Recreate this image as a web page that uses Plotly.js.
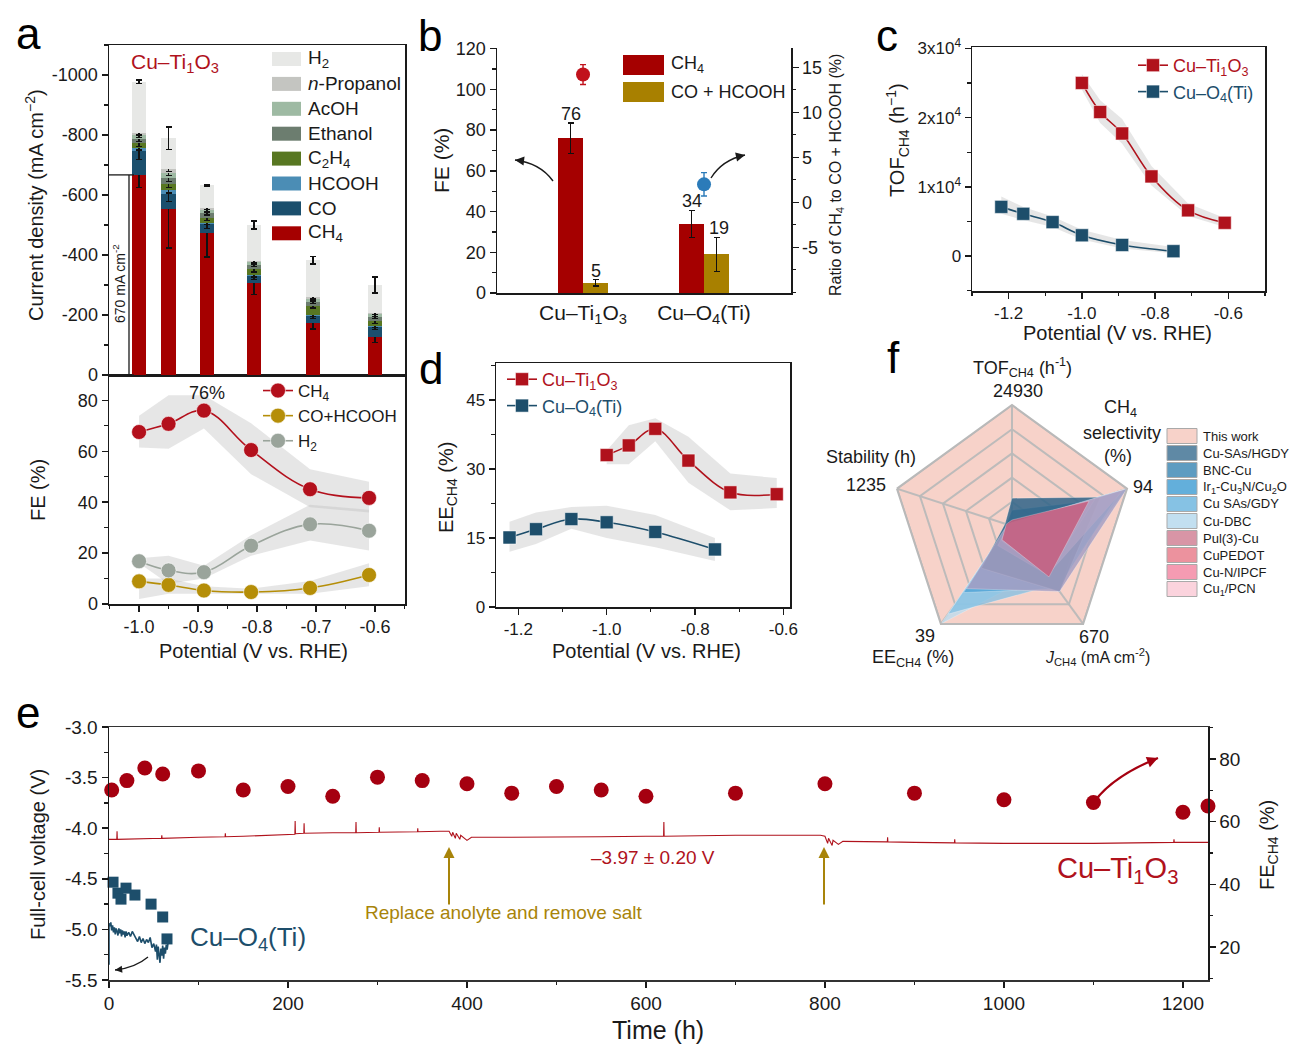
<!DOCTYPE html>
<html><head><meta charset="utf-8">
<script src="https://cdn.plot.ly/plotly-3.0.1.min.js"></script>
<style>body{margin:0;background:#fff;} #chart{width:1290px;height:1047px;}</style>
</head><body><div id="chart"></div>
<script>
// ---------------- DATA ----------------
// Panel a (top): partial current densities (mA cm-2)
const barPotentials = [-1.0, -0.95, -0.885, -0.805, -0.705, -0.6];
const productNames = ['CH<sub>4</sub>', 'CO', 'HCOOH', 'C<sub>2</sub>H<sub>4</sub>', 'Ethanol', 'AcOH', '<i>n</i>-Propanol', 'H<sub>2</sub>'];
const productColors = ['#a50000', '#1b4f6d', '#4b8db5', '#587722', '#6c7d6f', '#9ebaa3', '#c4c5c1', '#e7e8e6'];
const jCH4 = [-667, -553, -473, -306, -173, -127];
const jCO = [-81, -50, -31, -24, -25, -34];
const jHCOOH = [-10, -14, -4, -3, -3, -3];
const jC2H4 = [-14, -20, -16, -19, -30, -16];
const jEthanol = [-15, -19, -15, -15, -13, -14];
const jAcOH = [-13, -18, -11, -9, -9, -8];
const jPropanol = [-8, -13, -6, -5, -7, -6];
const jH2 = [-170, -102, -77, -119, -123, -92];
const eCH4 = [42, 130, 80, 38, 20, 18];
const eCO = [30, 25, 15, 12, 10, 10];
const eHCOOH = [8, 10, 6, 6, 5, 5];
const eC2H4 = [10, 12, 8, 8, 8, 8];
const eEthanol = [8, 10, 6, 6, 6, 6];
const eAcOH = [8, 8, 6, 6, 6, 6];
const ePropanol = [8, 8, 4, 6, 6, 6];
const eH2 = [6, 38, 3, 13, 13, 27];
// Panel a (bottom): FE (%)
const potentials = [-1.0, -0.95, -0.89, -0.81, -0.71, -0.61];
const feCH4 = [67.6, 70.8, 76.0, 60.5, 45.1, 41.7];
const feCOHCOOH = [8.9, 7.5, 5.3, 4.7, 6.3, 11.4];
const feH2 = [16.8, 13.2, 12.5, 22.9, 31.3, 28.8];
const feCH4Upper = [74, 82, 82, 71, 53, 48];
const feCH4Lower = [61.5, 61, 69, 51, 38, 36];
const feH2Upper = [18, 19, 15, 27, 39, 37];
const feH2Lower = [16, 8, 10, 19, 25, 21];
const feCOUpper = [10, 10, 7, 6, 9, 16];
const feCOLower = [2, 4, 4, 4, 4, 7];
// Panel b
const bCategories = ['Cu–Ti<sub>1</sub>O<sub>3</sub>', 'Cu–O<sub>4</sub>(Ti)'];
const bFeCH4 = [76, 34];
const bFeCH4Err = [7.4, 6.6];
const bFeCO = [5, 19];
const bFeCOErr = [1.5, 8.3];
const bRatio = [14.2, 2.0];
const bRatioErr = [1.1, 1.3];
const bRatioColors = ['#c1121c', '#2b7bb9'];
// Panel c: TOF
const cTiX = [-1.0, -0.95, -0.89, -0.81, -0.71, -0.61];
const cTiY = [25000, 20800, 17700, 11500, 6600, 4800];
const cTiUpper = [26300, 22500, 19800, 13000, 7600, 5500];
const cTiLower = [24000, 19200, 16200, 10200, 5800, 4200];
const cO4X = [-1.22, -1.16, -1.08, -1.0, -0.89, -0.75];
const cO4Y = [7100, 6100, 4900, 3000, 1600, 700];
const cO4Upper = [8600, 7100, 5700, 3800, 2300, 1300];
const cO4Lower = [6100, 5200, 4200, 2400, 1100, 400];
// Panel d: EE
const dTiX = [-1.0, -0.95, -0.89, -0.815, -0.72, -0.615];
const dTiY = [33.0, 35.1, 38.7, 31.8, 24.9, 24.5];
const dTiUpper = [34, 39.5, 41, 37, 29, 28];
const dTiLower = [31, 31, 36, 27, 21, 21.5];
const dO4X = [-1.22, -1.16, -1.08, -1.0, -0.89, -0.755];
const dO4Y = [15.1, 16.9, 19.1, 18.4, 16.3, 12.5];
const dO4Upper = [18.5, 20.5, 21.7, 22, 20, 15];
const dO4Lower = [12, 13.7, 17, 15, 13, 10];
// Panel e: stability
const eTime = [3, 20, 40, 60, 100, 150, 200, 250, 300, 350, 400, 450, 500, 550, 600, 700, 800, 900, 1000, 1100, 1200, 1228];
const eFE = [70.1, 73.1, 77.1, 75.2, 76.2, 70.1, 71.2, 68.1, 74.2, 73.1, 72.1, 69.1, 71.2, 70.1, 68.1, 69.1, 72.1, 69.1, 67.0, 66.1, 63.0, 65.0];
const eO4Time = [4.5, 10, 13.4, 19, 29, 47, 60, 64.8];
const eO4FE = [40.7, 37.2, 35.3, 38.8, 36.6, 33.7, 29.6, 22.6];
const vTiTime = [0, 8.7, 9, 9.3, 58.7, 59, 59.3, 100, 129.7, 130, 130.3, 150, 200, 207.7, 208, 208.3, 217.7, 218, 218.3, 250, 275.7, 276, 276.3, 301.7, 302, 302.3, 344.7, 345, 345.3, 370, 380, 383, 384, 387, 388, 392, 393, 400, 405, 450, 500, 550, 600, 619.7, 620, 620.3, 700, 760, 795, 800, 803, 804, 808, 809, 815, 820, 869.7, 870, 870.3, 900, 944.7, 945, 945.3, 1000, 1100, 1189.7, 1190, 1190.3, 1228];
const vTiV = [-4.11, -4.11, -4.03, -4.11, -4.10, -4.07, -4.10, -4.09, -4.085, -4.05, -4.085, -4.08, -4.065, -4.06, -3.93, -4.055, -4.05, -3.95, -4.05, -4.045, -4.045, -3.94, -4.045, -4.04, -3.99, -4.04, -4.035, -4.0, -4.035, -4.03, -4.03, -4.08, -4.04, -4.10, -4.05, -4.11, -4.07, -4.12, -4.09, -4.09, -4.09, -4.085, -4.08, -4.08, -3.94, -4.08, -4.07, -4.07, -4.07, -4.08, -4.15, -4.10, -4.17, -4.12, -4.16, -4.13, -4.135, -4.09, -4.135, -4.14, -4.145, -4.11, -4.145, -4.15, -4.15, -4.14, -4.11, -4.14, -4.14];
const vO4Time = [0, 0, 1, 2, 3, 4, 5, 6, 7, 8, 9, 10, 11, 12, 13, 14, 15, 16, 17, 18, 19, 20, 22, 24, 26, 28, 30, 32, 34, 36, 38, 40, 42, 44, 46, 48, 50, 52, 53, 54, 55, 56, 57, 58, 59, 60, 61, 62, 63, 64, 65, 66];
const vO4V = [-5.35, -4.94, -4.97, -4.93, -5.01, -4.96, -5.03, -4.98, -5.05, -4.99, -5.02, -5.06, -4.99, -5.04, -5.0, -5.07, -5.01, -5.05, -5.02, -5.08, -5.02, -5.06, -5.03, -5.07, -5.02, -5.05, -5.09, -5.12, -5.07, -5.13, -5.09, -5.14, -5.1, -5.13, -5.08, -5.18, -5.14, -5.22, -5.15, -5.3, -5.17, -5.24, -5.33, -5.19, -5.26, -5.16, -5.29, -5.18, -5.24, -5.15, -5.2, -5.13];
// Panel f: radar (normalised to the maxima of this work)
const radarAxes = ['TOF', 'Selectivity', 'J', 'EE', 'Stability'];
const radarGridLevels = [0.2, 0.4, 0.6, 0.8, 1.0];
const radarNames = ['This work', 'Cu-SAs/HGDY', 'BNC-Cu', 'Ir<sub>1</sub>-Cu<sub>3</sub>N/Cu<sub>2</sub>O', 'Cu SAs/GDY', 'Cu-DBC', 'Pul(3)-Cu', 'CuPEDOT', 'Cu-N/IPCF', 'Cu<sub>1</sub>/PCN'];
const radarColors = ['#f7d2c9', '#5f89a5', '#5e9cc1', '#63afdb', '#86c2e4', '#c2dff0', '#d895a6', '#ec929e', '#f59bb2', '#fbd3dd'];
const radarFills = ['#f7d2c9', '#2f6488', '#4a88ad', '#4fa3d6', '#80bfe3', '#bcdcef', '#a7a0c3', '#c55f80', '#ee9ab4', '#f8c3d0'];
const radarOpacity = [1, 0.85, 0.85, 0.8, 0.75, 0.8, 0.85, 0.88, 0.6, 0.7];
const radarDrawOrder = [0, 5, 4, 3, 2, 1, 9, 8, 6, 7];
const rThisWork = [1, 1, 1, 1, 1];
const rHGDY = [0.23, 0.77, 0.67, 0.43, 0.06];
const rBNC = [0.13, 0.67, 0.67, 0.43, 0.05];
const rIr = [0.05, 0.95, 0.64, 0.68, 0.04];
const rCuSAsGDY = [0.03, 1.0, 0.6, 0.9, 0.03];
const rDBC = [0.02, 1.0, 0.45, 1.0, 0.03];
const rPul = [0.03, 1.0, 0.67, 0.64, 0.04];
const rPEDOT = [0.05, 0.67, 0.52, 0.14, 0.05];
const rCuN = [0.02, 0.72, 0.5, 0.2, 0.03];
const rPCN = [0.02, 0.97, 0.5, 0.15, 0.03];

// ---------------- HELPERS ----------------
const W = 1290, H = 1047;
const P = x => x / W, Q = y => 1 - y / H;
const FONT = 'Liberation Sans, Arial, sans-serif';
const INK = '#1a1a1a';
const RED = '#b0121c', BLUE = '#1d4e6b', GOLD = '#a8840a';
const fmtTicks = (vals, d) => ({tickmode: 'array', tickvals: vals, ticktext: vals.map(v => v.toFixed(d))});
function axis(o) {
  return Object.assign({
    showline: true, linecolor: INK, linewidth: 1.5, mirror: true,
    ticks: 'outside', ticklen: 6, tickwidth: 1.5, tickcolor: INK,
    showgrid: false, zeroline: false, tickfont: {size: 18, color: INK, family: FONT},
    fixedrange: true
  }, o);
}
const minor = (d, t0) => ({tickmode: 'linear', tick0: t0 || 0, dtick: d, ticklen: 3.5, tickwidth: 1.2, tickcolor: INK, showgrid: false});
const hex2rgba = (h, a) => 'rgba(' + parseInt(h.slice(1, 3), 16) + ',' + parseInt(h.slice(3, 5), 16) + ',' + parseInt(h.slice(5, 7), 16) + ',' + a + ')';
const rev = a => a.slice().reverse();
const band = (x, up, lo) => ({x: x.concat(rev(x)), y: up.concat(rev(lo))});

const traces = [];
const annotations = [];
const shapes = [];
function txt(x, y, text, size, color, o) {
  annotations.push(Object.assign({xref: 'paper', yref: 'paper', x: P(x), y: Q(y), text: text, showarrow: false,
    xanchor: 'center', yanchor: 'middle', font: {size: size, color: color || INK, family: FONT}}, o || {}));
}
function arrow(hx, hy, tx, ty, color, width, size) {
  annotations.push({xref: 'paper', yref: 'paper', x: P(hx), y: Q(hy), ax: tx - hx, ay: ty - hy, axref: 'pixel', ayref: 'pixel',
    text: '', showarrow: true, arrowhead: 2, arrowsize: size || 1.2, arrowwidth: width || 1.5, arrowcolor: color || INK});
}
function curvedArrow(tx, ty, cx, cy, hx, hy, color, width, size) {
  shapes.push({type: 'path', xref: 'paper', yref: 'paper',
    path: 'M ' + P(tx) + ' ' + Q(ty) + ' Q ' + P(cx) + ' ' + Q(cy) + ' ' + P(hx) + ' ' + Q(hy),
    line: {color: color, width: width}});
  const dx = hx - cx, dy = hy - cy, L = Math.hypot(dx, dy);
  arrow(hx, hy, hx - dx / L * 6, hy - dy / L * 6, color, width, size);
}
function swatch(x0, x1, cy, h, color, lineColor) {
  shapes.push({type: 'rect', xref: 'paper', yref: 'paper', x0: P(x0), x1: P(x1), y0: Q(cy + h / 2), y1: Q(cy - h / 2),
    fillcolor: color, line: {width: lineColor ? 1 : 0, color: lineColor || color}});
}

// ---------------- PANEL a (top) ----------------
const topSeries = [jCH4, jCO, jHCOOH, jC2H4, jEthanol, jAcOH, jPropanol, jH2];
const topErr = [eCH4, eCO, eHCOOH, eC2H4, eEthanol, eAcOH, ePropanol, eH2];
topSeries.forEach((s, i) => {
  traces.push({type: 'bar', x: barPotentials, y: s, xaxis: 'x2', yaxis: 'y2', width: 0.025,
    marker: {color: productColors[i], line: {width: 0}}, showlegend: false, name: productNames[i],
    error_y: {type: 'data', array: topErr[i], color: '#111', thickness: 1.4, width: 3}});
});
const orderTop = [7, 6, 5, 4, 3, 2, 1, 0];
orderTop.forEach((idx, k) => {
  const cy = 59 + k * 24.9;
  swatch(272, 301, cy, 14, productColors[idx]);
  txt(306, cy, productNames[idx], 19, INK, {xanchor: 'left'});
});
txt(175, 63, 'Cu–Ti<sub>1</sub>O<sub>3</sub>', 21, RED);
shapes.push({type: 'line', xref: 'paper', yref: 'y2', x0: P(129), x1: P(129), y0: 0, y1: jCH4[0], line: {color: INK, width: 1.3}});
shapes.push({type: 'line', xref: 'paper', yref: 'y2', x0: P(124), x1: P(134), y0: 0, y1: 0, line: {color: INK, width: 1.3}});
shapes.push({type: 'line', xref: 'paper', yref: 'y2', x0: P(109), x1: P(134), y0: jCH4[0], y1: jCH4[0], line: {color: INK, width: 1.3}});
txt(119, 284, '670 mA cm<sup>-2</sup>', 14, INK, {textangle: -90});

// ---------------- PANEL a (bottom) ----------------
const bandFill = 'rgba(190,190,190,0.38)';
[[feCH4Upper, feCH4Lower], [feH2Upper, feH2Lower], [feCOUpper, feCOLower]].forEach(b => {
  const bb = band(potentials, b[0], b[1]);
  traces.push({type: 'scatter', x: bb.x, y: bb.y, xaxis: 'x', yaxis: 'y', fill: 'toself', fillcolor: bandFill,
    line: {width: 0}, mode: 'lines', showlegend: false, hoverinfo: 'skip'});
});
const feSeries = [[feCH4, 'CH<sub>4</sub>', '#b3101c'], [feCOHCOOH, 'CO+HCOOH', '#b58e08'], [feH2, 'H<sub>2</sub>', '#9aa49b']];
feSeries.forEach(s => {
  traces.push({type: 'scatter', x: potentials, y: s[0], xaxis: 'x', yaxis: 'y', mode: 'lines+markers', name: s[1],
    line: {color: s[2], width: 1.6, shape: 'spline', smoothing: 1.1},
    marker: {color: s[2], size: 15, line: {width: 1, color: 'rgba(255,255,255,0.6)'}},
    legend: 'legend2', cliponaxis: false});
});
txt(207, 393, feCH4[2].toFixed(0) + '%', 18, INK);

// ---------------- PANEL b ----------------
const bIdx = bCategories.map((c, i) => i);
const bw = 0.2066;
traces.push({type: 'bar', x: bIdx.map(i => i - bw / 2), y: bFeCH4, width: bw, xaxis: 'x3', yaxis: 'y3', marker: {color: '#a50000'},
  showlegend: false, error_y: {type: 'data', array: bFeCH4Err, color: '#111', thickness: 1.4, width: 3}});
traces.push({type: 'bar', x: bIdx.map(i => i + bw / 2), y: bFeCO, width: bw, xaxis: 'x3', yaxis: 'y3', marker: {color: '#a88000'},
  showlegend: false, error_y: {type: 'data', array: bFeCOErr, color: '#111', thickness: 1.4, width: 3}});
bIdx.forEach(i => {
  traces.push({type: 'scatter', mode: 'markers', x: [i], y: [bRatio[i]], xaxis: 'x3', yaxis: 'y4', showlegend: false,
    marker: {color: bRatioColors[i], size: 14}, error_y: {type: 'data', array: [bRatioErr[i]], color: bRatioColors[i], thickness: 1.4, width: 3}});
  annotations.push({xref: 'x3', yref: 'y3', x: i - bw / 2, y: bFeCH4[i] + bFeCH4Err[i] + 4.5, text: String(bFeCH4[i]), showarrow: false,
    font: {size: 18, color: INK, family: FONT}});
  annotations.push({xref: 'x3', yref: 'y3', x: i + bw / 2 + (i === 1 ? 0.02 : 0), y: bFeCO[i] + bFeCOErr[i] + 4.5, text: String(bFeCO[i]), showarrow: false,
    font: {size: 18, color: INK, family: FONT}});
});
swatch(623, 664, 65, 20, '#a50000');
txt(669, 65, 'CH<sub>4</sub>', 18, INK, {xanchor: 'left'});
swatch(623, 664, 92, 20, '#a88000');
txt(669, 92, 'CO + HCOOH', 18, INK, {xanchor: 'left'});
curvedArrow(553, 181, 540, 163, 515, 160, INK, 1.4, 1.3);
curvedArrow(711, 178, 722, 160, 745, 155, INK, 1.4, 1.3);

// ---------------- PANEL c ----------------
[[cTiX, cTiUpper, cTiLower], [cO4X, cO4Upper, cO4Lower]].forEach(b => {
  const bb = band(b[0], b[1], b[2]);
  traces.push({type: 'scatter', x: bb.x, y: bb.y, xaxis: 'x5', yaxis: 'y5', fill: 'toself', fillcolor: bandFill,
    line: {width: 0}, mode: 'lines', showlegend: false, hoverinfo: 'skip'});
});
const nameTi = '<span style="color:' + RED + '">Cu–Ti<sub>1</sub>O<sub>3</sub></span>';
const nameO4 = '<span style="color:' + BLUE + '">Cu–O<sub>4</sub>(Ti)</span>';
const sqMarker = c => ({symbol: 'square', size: 13, color: c, line: {width: 1, color: 'rgba(255,255,255,0.5)'}});
traces.push({type: 'scatter', x: cTiX, y: cTiY, xaxis: 'x5', yaxis: 'y5', mode: 'lines+markers', name: nameTi,
  line: {color: RED, width: 1.6, shape: 'spline'}, marker: sqMarker(RED), legend: 'legend3'});
traces.push({type: 'scatter', x: cO4X, y: cO4Y, xaxis: 'x5', yaxis: 'y5', mode: 'lines+markers', name: nameO4,
  line: {color: BLUE, width: 1.6, shape: 'spline'}, marker: sqMarker(BLUE), legend: 'legend3'});

// ---------------- PANEL d ----------------
[[dTiX, dTiUpper, dTiLower], [dO4X, dO4Upper, dO4Lower]].forEach(b => {
  const bb = band(b[0], b[1], b[2]);
  traces.push({type: 'scatter', x: bb.x, y: bb.y, xaxis: 'x6', yaxis: 'y6', fill: 'toself', fillcolor: bandFill,
    line: {width: 0}, mode: 'lines', showlegend: false, hoverinfo: 'skip'});
});
traces.push({type: 'scatter', x: dTiX, y: dTiY, xaxis: 'x6', yaxis: 'y6', mode: 'lines+markers', name: nameTi,
  line: {color: RED, width: 1.6, shape: 'spline'}, marker: sqMarker(RED), legend: 'legend4'});
traces.push({type: 'scatter', x: dO4X, y: dO4Y, xaxis: 'x6', yaxis: 'y6', mode: 'lines+markers', name: nameO4,
  line: {color: BLUE, width: 1.6, shape: 'spline'}, marker: sqMarker(BLUE), legend: 'legend4'});

// ---------------- PANEL e ----------------
traces.push({type: 'scatter', x: vTiTime, y: vTiV, xaxis: 'x7', yaxis: 'y7', mode: 'lines', line: {color: '#b0121c', width: 1.1}, showlegend: false});
traces.push({type: 'scatter', x: vO4Time, y: vO4V, xaxis: 'x7', yaxis: 'y7', mode: 'lines', line: {color: BLUE, width: 1.6}, showlegend: false, cliponaxis: false});
traces.push({type: 'scatter', x: eTime, y: eFE, xaxis: 'x7', yaxis: 'y8', mode: 'markers', marker: {color: '#a50010', size: 15}, showlegend: false, cliponaxis: false});
traces.push({type: 'scatter', x: eO4Time, y: eO4FE, xaxis: 'x7', yaxis: 'y8', mode: 'markers', marker: {symbol: 'square', color: BLUE, size: 11}, showlegend: false, cliponaxis: false});
txt(653, 857, '–3.97 ± 0.20 V', 19, RED);
txt(503, 912, 'Replace anolyte and remove salt', 19, GOLD);
arrow(449, 847, 449, 906, GOLD, 2, 1.1);
arrow(824, 847, 824, 906, GOLD, 2, 1.1);
txt(1117, 870, 'Cu–Ti<sub>1</sub>O<sub>3</sub>', 29, RED);
txt(248, 938, 'Cu–O<sub>4</sub>(Ti)', 26, BLUE);
curvedArrow(148, 957, 135, 968, 115, 970, INK, 1.3, 1.1);
curvedArrow(1090, 808, 1108, 778, 1158, 758, '#a50010', 2.2, 1);

// ---------------- PANEL f ----------------
const radarSeries = [rThisWork, rHGDY, rBNC, rIr, rCuSAsGDY, rDBC, rPul, rPEDOT, rCuN, rPCN];
const closeTheta = radarAxes.concat([radarAxes[0]]);
function radarPolygon(i) {
  const r = radarSeries[i];
  traces.push({type: 'scatterpolar', r: r.concat([r[0]]), theta: closeTheta, subplot: 'polar', mode: 'lines',
    fill: 'toself', fillcolor: hex2rgba(radarFills[i], radarOpacity[i]),
    line: {color: i === 0 ? radarFills[0] : 'rgba(255,255,255,0.45)', width: 0.6},
    showlegend: false, name: radarNames[i]});
}
radarPolygon(radarDrawOrder[0]);
// grid drawn over "This work", under the other polygons
radarGridLevels.forEach(l => {
  traces.push({type: 'scatterpolar', r: closeTheta.map(() => l), theta: closeTheta, subplot: 'polar', mode: 'lines',
    line: {color: 'rgba(185,185,185,0.95)', width: 2}, showlegend: false, hoverinfo: 'skip'});
});
radarAxes.forEach(a => {
  traces.push({type: 'scatterpolar', r: [0, 1], theta: [a, a], subplot: 'polar', mode: 'lines',
    line: {color: 'rgba(185,185,185,0.95)', width: 2}, showlegend: false, hoverinfo: 'skip'});
});
radarDrawOrder.slice(1).forEach(radarPolygon);
radarNames.forEach((n, k) => {
  const cy = 436 + k * 17;
  swatch(1167, 1197, cy, 15, radarColors[k], '#a9a9a9');
  txt(1201, cy, n, 13, INK, {xanchor: 'left'});
});
txt(1022, 367, 'TOF<sub>CH4</sub> (h<sup>-1</sup>)', 18, INK);
txt(1018, 391, '24930', 18, INK);
txt(1120, 408, 'CH<sub>4</sub>', 18, INK);
txt(1122, 433, 'selectivity', 18, INK);
txt(1118, 456, '(%)', 18, INK);
txt(1143, 487, '94', 18, INK);
txt(871, 457, 'Stability (h)', 18, INK);
txt(866, 485, '1235', 18, INK);
txt(925, 636, '39', 18, INK);
txt(913, 658, 'EE<sub>CH4</sub> (%)', 18, INK);
txt(1094, 637, '670', 18, INK);
txt(1097, 657, '<i>J</i><sub>CH4</sub> (mA cm<sup>-2</sup>)', 16, INK);

// ---------------- axis titles & panel letters ----------------
txt(35, 205, 'Current density (mA cm<sup>−2</sup>)', 20, INK, {textangle: -90});
txt(38, 490, 'FE (%)', 20, INK, {textangle: -90});
txt(253, 651, 'Potential (V vs. RHE)', 20, INK);
txt(441, 160, 'FE (%)', 21, INK, {textangle: -90});
txt(836, 175, 'Ratio of CH<sub>4</sub> to CO + HCOOH (%)', 16, INK, {textangle: -90});
txt(897, 140, 'TOF<sub>CH4</sub> (h<sup>−1</sup>)', 20, INK, {textangle: -90});
txt(1117, 333, 'Potential (V vs. RHE)', 20, INK);
txt(447, 488, 'EE<sub>CH4</sub> (%)', 20, INK, {textangle: -90});
txt(646, 651, 'Potential (V vs. RHE)', 20, INK);
txt(38, 855, 'Full-cell voltage (V)', 20, INK, {textangle: -90});
txt(1268, 845, 'FE<sub>CH4</sub> (%)', 20, INK, {textangle: -90});
txt(658, 1030, 'Time (h)', 25, INK);
[['a', 28, 33], ['b', 430, 35], ['c', 887, 35], ['d', 431, 369], ['e', 28, 712], ['f', 893, 357]].forEach(l => txt(l[1], l[2], l[0], 44, '#000'));

// ---------------- LAYOUT ----------------
const potTicks = fmtTicks([-1.0, -0.9, -0.8, -0.7, -0.6], 1);
const layout = {
  width: W, height: H, margin: {l: 0, r: 0, t: 0, b: 0}, paper_bgcolor: '#fff', plot_bgcolor: 'rgba(0,0,0,0)',
  font: {family: FONT, color: INK}, barmode: 'stack', showlegend: true, hovermode: false,
  xaxis: axis(Object.assign({domain: [P(109), P(405)], anchor: 'y', range: [-1.051, -0.549], minor: minor(0.05)}, potTicks)),
  yaxis: axis(Object.assign({domain: [Q(604), Q(375)], anchor: 'x', range: [0, 90], minor: minor(10)}, fmtTicks([0, 20, 40, 60, 80], 0))),
  xaxis2: axis({domain: [P(109), P(405)], anchor: 'y2', range: [-1.051, -0.549], showticklabels: false, ticks: ''}),
  yaxis2: axis(Object.assign({domain: [Q(375), Q(45)], anchor: 'x2', range: [0, -1100], minor: minor(100)}, fmtTicks([0, -200, -400, -600, -800, -1000], 0))),
  xaxis3: axis({domain: [P(497), P(791)], anchor: 'y3', range: [-0.711, 1.719], tickmode: 'array', tickvals: bIdx, ticktext: bCategories,
    ticks: '', mirror: false, tickfont: {size: 21, color: INK, family: FONT}}),
  yaxis3: axis(Object.assign({domain: [Q(293), Q(48)], anchor: 'x3', range: [0, 120.3], mirror: false, minor: minor(10)}, fmtTicks([0, 20, 40, 60, 80, 100, 120], 0))),
  yaxis4: axis(Object.assign({overlaying: 'y3', side: 'right', anchor: 'x3', range: [-10.07, 17.15], mirror: false, minor: minor(2.5)}, fmtTicks([-5, 0, 5, 10, 15], 0))),
  xaxis5: axis(Object.assign({domain: [P(972), P(1265)], anchor: 'y5', range: [-1.3, -0.5], minor: minor(0.1), tickfont: {size: 17, color: INK, family: FONT}}, fmtTicks([-1.2, -1.0, -0.8, -0.6], 1))),
  yaxis5: axis({domain: [Q(291), Q(47)], anchor: 'x5', range: [-5048, 30190], tickmode: 'array', tickvals: [0, 10000, 20000, 30000],
    ticktext: ['0', '1x10<sup>4</sup>', '2x10<sup>4</sup>', '3x10<sup>4</sup>'], minor: minor(5000), tickfont: {size: 17, color: INK, family: FONT}}),
  xaxis6: axis(Object.assign({domain: [P(496), P(790)], anchor: 'y6', range: [-1.2506, -0.585], minor: minor(0.1), tickfont: {size: 17, color: INK, family: FONT}}, fmtTicks([-1.2, -1.0, -0.8, -0.6], 1))),
  yaxis6: axis(Object.assign({domain: [Q(607), Q(363)], anchor: 'x6', range: [0, 53], minor: minor(7.5), tickfont: {size: 17, color: INK, family: FONT}}, fmtTicks([0, 15, 30, 45], 0))),
  xaxis7: axis(Object.assign({domain: [P(109), P(1208)], anchor: 'y7', range: [0, 1228], minor: minor(100), linecolor: '#333', tickfont: {size: 19, color: INK, family: FONT}}, fmtTicks([0, 200, 400, 600, 800, 1000, 1200], 0))),
  yaxis7: axis(Object.assign({domain: [Q(980), Q(727)], anchor: 'x7', range: [-5.5, -3.0], minor: minor(0.25), tickfont: {size: 19, color: INK, family: FONT}}, fmtTicks([-5.5, -5.0, -4.5, -4.0, -3.5, -3.0], 1))),
  yaxis8: axis(Object.assign({overlaying: 'y7', side: 'right', anchor: 'x7', range: [9.5, 90.2], mirror: false, minor: minor(10), tickfont: {size: 19, color: INK, family: FONT}}, fmtTicks([20, 40, 60, 80], 0))),
  polar: {
    domain: {x: [P(891), P(1133)], y: [Q(647), Q(405)]}, gridshape: 'linear', bgcolor: 'rgba(0,0,0,0)',
    radialaxis: {range: [0, 1], showticklabels: false, ticks: '', showline: false, showgrid: false},
    angularaxis: {direction: 'clockwise', rotation: 90, showticklabels: false, ticks: '', showgrid: false,
      linecolor: '#b9b9b9', linewidth: 2}
  },
  legend: {visible: false},
  legend2: {x: P(258), y: Q(373), xanchor: 'left', yanchor: 'top', bgcolor: 'rgba(0,0,0,0)', font: {size: 17, color: INK, family: FONT}},
  legend3: {x: P(1133), y: Q(47), xanchor: 'left', yanchor: 'top', bgcolor: 'rgba(0,0,0,0)', font: {size: 18, color: INK, family: FONT}},
  legend4: {x: P(502), y: Q(361), xanchor: 'left', yanchor: 'top', bgcolor: 'rgba(0,0,0,0)', font: {size: 18, color: INK, family: FONT}},
  annotations: annotations, shapes: shapes
};
Plotly.newPlot('chart', traces, layout, {displayModeBar: false, staticPlot: true});
</script>
</body></html>
